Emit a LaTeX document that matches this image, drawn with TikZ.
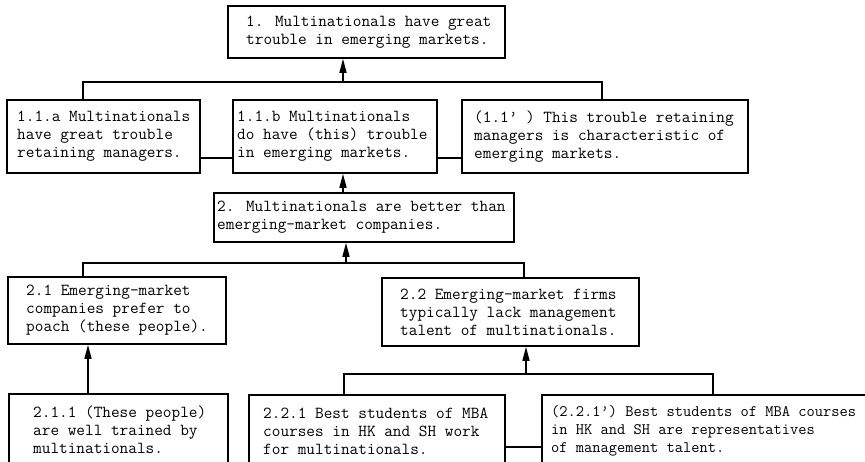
\documentclass[tikz,border=0pt]{standalone}
\usetikzlibrary{positioning,arrows.meta}
\tikzset{
  claim/.style={draw, line width=1.8pt, anchor=north west, inner sep=0pt},
  txt/.style={font=\fontsize{16.8}{18}\selectfont\ttfamily, align=left, inner sep=0pt},
  link/.style={line width=1.4pt},
  arr/.style={line width=1.4pt, -{Triangle[width=7pt,length=14pt]}}
}
\begin{document}
\begin{tikzpicture}[x=1pt,y=-1pt]
    \useasboundingbox (0,0) rectangle (865,462);
    \clip (0,0) rectangle (865,462);
    % boxes
    \node[claim, minimum width=277, minimum height=52] (top) at (227,5) {};
    \node[claim, minimum width=193, minimum height=73] (a) at (6,99) {};
    \node[claim, minimum width=204, minimum height=73] (b) at (232,99) {};
    \node[claim, minimum width=286, minimum height=73] (c) at (461,99) {};
    \node[claim, minimum width=300, minimum height=49] (two) at (213,192) {};
    \node[claim, minimum width=218, minimum height=67] (t21) at (7,276) {};
    \node[claim, minimum width=257, minimum height=68] (t22) at (381,277) {};
    \node[claim, minimum width=219, minimum height=72] (t211) at (8,393) {};
    \node[claim, minimum width=256, minimum height=72] (t221) at (248,394) {};
    \node[claim, minimum width=330, minimum height=72] (t221p) at (541,394) {};
    % texts
    \node[txt, right=19pt of top.west] (topt) {1. Multinationals have great\\trouble in emerging markets.};
    \node[txt, right=11pt of a.west] (at) {1.1.a Multinationals\\have great trouble\\retaining managers.};
    \node[txt, right=5pt of b.west] (bt) {1.1.b Multinationals\\do have (this) trouble\\in emerging markets.};
    \node[txt, right=13pt of c.west] (ct) {(1.1’ ) This trouble retaining\\managers is characteristic of\\emerging markets.};
    \node[txt, right=4pt of two.west] (twot) {2. Multinationals are better than\\emerging-market companies.};
    \node[txt, right=19pt of t21.west] (t21t) {2.1 Emerging-market\\companies prefer to\\poach (these people).};
    \node[txt, right=19pt of t22.west] (t22t) {2.2 Emerging-market firms\\typically lack management\\talent of multinationals.};
    \node[txt, right=25pt of t211.west] (t211t) {2.1.1 (These people)\\are well trained by\\multinationals.};
    \node[txt, right=15pt of t221.west] (t221t) {2.2.1 Best students of MBA\\courses in HK and SH work\\for multinationals.};
    \node[txt, font=\fontsize{16}{18}\selectfont\ttfamily, right=10pt of t221p.west] (t221pt) {(2.2.1’) Best students of MBA courses\\in HK and SH are representatives\\of management talent.};
    % joints
    \coordinate (j1) at (343,82);
    \coordinate (j1l) at (83,82);
    \coordinate (j1r) at (602,82);
    \coordinate (k1) at (0,158);
    \coordinate (j2) at (346,263);
    \coordinate (j2l) at (83,263);
    \coordinate (j2r) at (524,263);
    \coordinate (j3) at (88,0);
    \coordinate (j4) at (526,374);
    \coordinate (j4l) at (344,374);
    \coordinate (j4r) at (713,374);
    \coordinate (k2) at (0,447);
    % connectors
    \draw[link] (a.north -| j1l) |- (j1r) -- (c.north -| j1r);
    \draw[arr] (j1) -- (top.south -| j1);
    \draw[link] (a.east |- k1) -- (b.west |- k1);
    \draw[link] (b.east |- k1) -- (c.west |- k1);
    \draw[arr] (two.north -| j1) -- (b.south -| j1);
    \draw[link] (t21.north -| j2l) |- (j2r) -- (t22.north -| j2r);
    \draw[arr] (j2) -- (two.south -| j2);
    \draw[arr] (t211.north -| j3) -- (t21.south -| j3);
    \draw[link] (t221.north -| j4l) |- (j4r) -- (t221p.north -| j4r);
    \draw[arr] (j4) -- (t22.south -| j4);
    \draw[link] (t221.east |- k2) -- (t221p.west |- k2);
\end{tikzpicture}
\end{document}
